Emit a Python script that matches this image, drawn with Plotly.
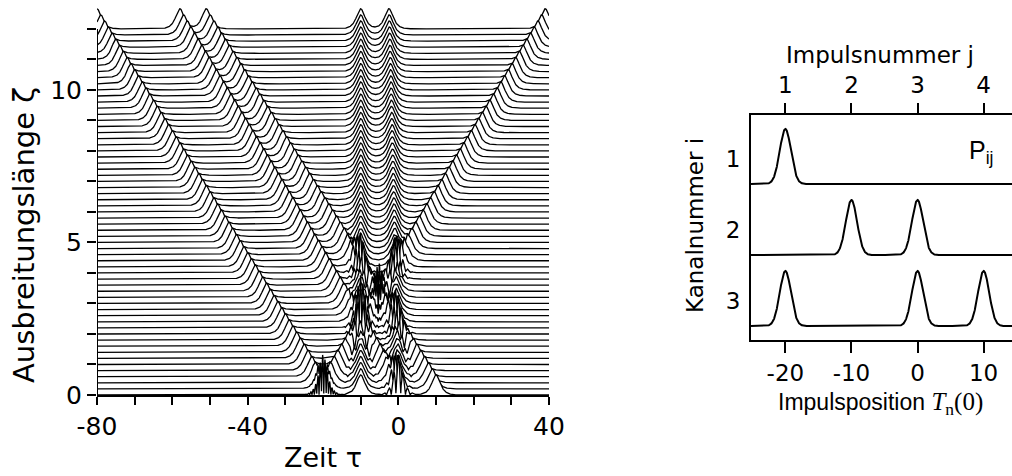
import numpy as np
import plotly.graph_objects as go

# ---------------- left panel data (waterfall) ----------------
zeta_levels = np.round(np.arange(0, 12.0 + 1e-9, 0.2), 2)      # 61 traces
tau_grid = np.linspace(-80, 40, 2401)
pulse_channel = [1, 2, 2, 3, 3, 3]
pulse_tau_start = [-20.0, -10.0, 0.0, -20.0, 0.0, 10.0]          # at zeta = 0
pulse_tau_end = [39.0, -10.0, -2.5, -80.0, -58.0, -51.0]         # at zeta = 12
channel_freq = {1: -5.0, 2: 0.0, 3: 5.0}
pulse_width = 1.0
trace_amp = 0.66
zeta_max = 12.0

x_major_left = [-80, -40, 0, 40]
x_major_left_text = ['-80', '-40', '0', '40']
x_minor_left = list(range(-80, 41, 10))
y_major_left = [0, 5, 10]
y_major_left_text = ['0', '5', '10']
y_minor_left = list(range(0, 13))

# ---------------- right panel data ----------------
row_names = ['1', '2', '3']
row_pulses = [[-20], [-10, 0], [-20, 0, 10]]
row_baseline = [2.0, 1.0, 0.0]
row_label_pos = [2.35, 1.35, 0.35]
row_amp = 0.775
row_sigma = 0.85
x_ticks_right = [-20, -10, 0, 10]
x_labels_right = ['-20', '-10', '0', '10']
j_labels = ['1', '2', '3', '4']
tau_right = np.linspace(-25.2, 14.3, 1581)

W, H = 1012, 476
def px(x):
    return x / W
def py(y):
    return (H - y) / H

SANS = "DejaVu Sans"
fig = go.Figure()

# waterfall: from top to bottom so lower traces hide upper ones
for z in zeta_levels[::-1]:
    frac = z / zeta_max
    field = np.zeros_like(tau_grid, dtype=complex)
    for ch, t0, t1 in zip(pulse_channel, pulse_tau_start, pulse_tau_end):
        pos = t0 + (t1 - t0) * frac
        om = channel_freq[ch]
        phase = om * tau_grid + 0.5 * (1.0 / pulse_width ** 2 - om ** 2) * z
        field += (1.0 / np.cosh((tau_grid - pos) / pulse_width)) * np.exp(1j * phase)
    yv = z + trace_amp * np.abs(field)
    fig.add_trace(go.Scatter(x=tau_grid, y=yv, mode='lines', fill='tozeroy',
                             fillcolor='white', line=dict(color='black', width=1.3),
                             xaxis='x', yaxis='y', showlegend=False, hoverinfo='skip'))

# right panel rows
for base, pulses in zip(row_baseline, row_pulses):
    prof = np.zeros_like(tau_right)
    for p in pulses:
        prof += np.exp(-0.5 * ((tau_right - p) / row_sigma) ** 2)
    fig.add_trace(go.Scatter(x=tau_right, y=base + row_amp * prof, mode='lines',
                             line=dict(color='black', width=2),
                             xaxis='x2', yaxis='y2', showlegend=False, hoverinfo='skip'))
# invisible trace to activate top axis
fig.add_trace(go.Scatter(x=tau_right, y=np.full_like(tau_right, row_baseline[2]), mode='lines',
                         line=dict(color='rgba(0,0,0,0)', width=0),
                         xaxis='x3', yaxis='y2', showlegend=False, hoverinfo='skip'))

tick_common = dict(tickcolor='black', showgrid=False, zeroline=False, automargin=False)

fig.update_layout(
    width=W, height=H, margin=dict(l=0, r=0, t=0, b=0, pad=0, autoexpand=False),
    paper_bgcolor='white', plot_bgcolor='white',
    font=dict(family=SANS, color='black'),
    xaxis=dict(domain=[px(97), px(549)], range=[-80, 40], anchor='y',
               showline=True, linecolor='black', linewidth=2,
               ticks='outside', ticklen=8, tickwidth=1.5,
               tickvals=x_major_left, ticktext=x_major_left_text, ticklabelstandoff=0,
               minor=dict(tickvals=x_minor_left, ticks='outside', ticklen=8, tickwidth=1.5,
                          tickcolor='black', showgrid=False),
               tickfont=dict(family=SANS, size=25), **tick_common),
    yaxis=dict(domain=[py(395), py(6)], range=[0, 12.75], anchor='x',
               showline=False, ticks='outside', ticklen=9, tickwidth=1.5,
               tickvals=y_major_left, ticktext=y_major_left_text, ticklabelstandoff=0,
               minor=dict(tickvals=y_minor_left, ticks='outside', ticklen=9, tickwidth=1.5,
                          tickcolor='black', showgrid=False),
               tickfont=dict(family=SANS, size=25), **tick_common),
    xaxis2=dict(domain=[px(751), 1.0], range=[-25.2, 14.3], anchor='y2',
                showline=True, linecolor='black', linewidth=2,
                ticks='outside', ticklen=11, tickwidth=2, ticklabelstandoff=0,
                tickvals=x_ticks_right, ticktext=x_labels_right,
                tickfont=dict(family=SANS, size=23), **tick_common),
    xaxis3=dict(range=[-25.2, 14.3], anchor='y2', overlaying='x2', side='top',
                showline=True, linecolor='black', linewidth=2,
                ticks='outside', ticklen=10, tickwidth=2, ticklabelstandoff=1,
                tickvals=x_ticks_right, ticktext=j_labels,
                tickfont=dict(family=SANS, size=23), **tick_common),
    yaxis2=dict(domain=[py(340), py(115)], range=[-0.197, 2.972], anchor='x2',
                showline=True, linecolor='black', linewidth=2, ticks='',
                tickvals=row_label_pos, ticktext=row_names, ticklabelstandoff=4,
                tickfont=dict(family=SANS, size=23), **tick_common),
)

# left y axis line from 0 to 12 only
fig.add_shape(type='line', xref='x', yref='y', x0=-80, x1=-80, y0=0, y1=12,
              line=dict(color='black', width=2))

ann = [
    dict(text='Zeit τ', x=px(323), y=py(457), font=dict(family=SANS, size=27)),
    dict(text='Ausbreitungslänge ζ', x=px(24), y=py(235), textangle=-90,
         font=dict(family=SANS, size=29)),
    dict(text='Impulsnummer j', x=px(880), y=py(55), font=dict(family=SANS, size=23)),
    dict(text='Kanalnummer i', x=px(695), y=py(226), textangle=-90,
         font=dict(family=SANS, size=23)),
    dict(text="Impulsposition <span style=\"font-family:'Liberation Serif';font-size:25px\"><i>T</i><sub>n</sub>(0)</span>",
         x=px(880), y=py(403), font=dict(family='Liberation Sans', size=23)),
]
for a in ann:
    fig.add_annotation(xref='paper', yref='paper', showarrow=False,
                       xanchor='center', yanchor='middle', **a)
fig.add_annotation(xref='paper', yref='paper', showarrow=False, xanchor='left', yanchor='middle',
                   x=px(967), y=py(152), text='P<sub>ij</sub>',
                   font=dict(family='Liberation Sans', size=25))

fig.write_html("out.html")
